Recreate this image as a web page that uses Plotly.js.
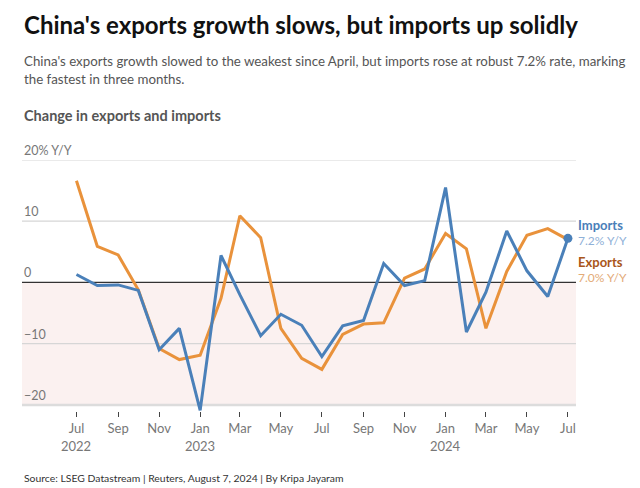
<!DOCTYPE html>
<html><head><meta charset="utf-8">
<script src="https://cdn.plot.ly/plotly-3.0.1.min.js"></script>
<style>html,body{margin:0;padding:0;background:#fff}#chart{width:640px;height:488px}</style>
</head><body><div id="chart"></div>
<script>
const months = ["2022-07-01","2022-08-01","2022-09-01","2022-10-01","2022-11-01","2022-12-01",
"2023-01-01","2023-02-01","2023-03-01","2023-04-01","2023-05-01","2023-06-01",
"2023-07-01","2023-08-01","2023-09-01","2023-10-01","2023-11-01","2023-12-01",
"2024-01-01","2024-02-01","2024-03-01","2024-04-01","2024-05-01","2024-06-01","2024-07-01"];
const exportsYY = [16.6,5.9,4.5,-1.2,-10.8,-12.6,-11.9,-2.6,10.9,7.3,-7.5,-12.4,-14.2,-8.5,-6.8,-6.6,0.7,2.2,8.0,5.5,-7.5,1.8,7.7,8.8,7.0];
const importsYY = [1.3,-0.5,-0.4,-1.3,-11.0,-7.5,-20.9,4.4,-2.0,-8.7,-5.2,-7.0,-12.1,-7.1,-6.2,3.1,-0.5,0.3,15.5,-8.1,-1.6,8.4,1.9,-2.3,7.2];
const tickDates = ["2022-07-01","2022-09-01","2022-11-01","2023-01-01","2023-03-01","2023-05-01","2023-07-01","2023-09-01","2023-11-01","2024-01-01","2024-03-01","2024-05-01","2024-07-01"];
const tickLabels = ["Jul","Sep","Nov","Jan","Mar","May","Jul","Sep","Nov","Jan","Mar","May","Jul"];
const yearDates = ["2022-07-01","2023-01-01","2024-01-01"];
const yearLabels = ["2022","2023","2024"];
const gridVals = [20,10,0,-10,-20];
const gridLabels = ["20% Y/Y","10","0","\u221210","\u221220"];

const FONT = "Lato, 'Source Sans Pro', 'Noto Sans', sans-serif";
const BLUE = "#4a80b9", ORANGE = "#e9923b";
const T = 160, B = 411, H = B - T;
const py = p => (B - p) / H;

const traces = [
  {x: months, y: exportsYY, type: "scatter", mode: "lines", line: {color: ORANGE, width: 3}, hoverinfo: "skip"},
  {x: months, y: importsYY, type: "scatter", mode: "lines", line: {color: BLUE, width: 3}, hoverinfo: "skip"},
  {x: [months[months.length-1]], y: [importsYY[importsYY.length-1]], type: "scatter", mode: "markers",
   marker: {color: BLUE, size: 9}, cliponaxis: false, hoverinfo: "skip"}
];

const shapes = [
  {type: "rect", xref: "paper", x0: 0, x1: 1, yref: "y", y0: -20, y1: 0, fillcolor: "#fbf1f0", line: {width: 0}, layer: "below"}
];
gridVals.forEach(v => {
  let color = "#d6d6d6", width = 1.2;
  if (v === 0) { color = "#333"; width = 1.2; }
  if (v === -20) { color = "#dcdcdc"; width = 2.5; }
  shapes.push({type: "line", xref: "paper", x0: 0, x1: 1, yref: "y", y0: v, y1: v, line: {color, width}, layer: "below"});
});

const ann = [];
gridVals.forEach((v, i) => ann.push({xref: "paper", x: 0, xanchor: "left", yref: "y", y: v, yanchor: "bottom", yshift: 0,
  text: gridLabels[i], showarrow: false, font: {family: FONT, size: 12.5, color: "#777"}}));
yearDates.forEach((d, i) => ann.push({xref: "x", x: d, xanchor: "center", yref: "paper", y: py(446), yanchor: "middle",
  text: yearLabels[i], showarrow: false, font: {family: FONT, size: 13, color: "#777"}}));
const txt = (text, p, size, color, bold, xs) => ann.push({xref: "paper", x: xs === undefined ? 0 : 1, xanchor: "left", xshift: xs || 0,
  yref: "paper", y: py(p), yanchor: "middle", text: bold ? "<b>" + text + "</b>" : text, showarrow: false,
  font: {family: FONT, size, color}});
txt("China's exports growth slows, but imports up solidly", 24, 24, "#111", true);
txt("China's exports growth slowed to the weakest since April, but imports rose at robust 7.2% rate, marking", 61, 13.3, "#555", false);
txt("the fastest in three months.", 79, 13.3, "#555", false);
txt("Change in exports and imports", 116, 14.5, "#555", true);
txt("Source: LSEG Datastream | Reuters, August 7, 2024 | By Kripa Jayaram", 478, 10.4, "#333", false);
txt("Imports", 225, 13, BLUE, true, 0);
txt("7.2% Y/Y", 240, 12, "#8fb1d8", false, 0);
txt("Exports", 262, 13, "#a9561a", true, 0);
txt("7.0% Y/Y", 277, 12, "#e3ab77", false, 0);

const layout = {
  width: 640, height: 488, margin: {l: 22, r: 64, t: T, b: 488 - B},
  paper_bgcolor: "#fff", plot_bgcolor: "rgba(0,0,0,0)", showlegend: false,
  font: {family: FONT},
  xaxis: {type: "date", range: ["2022-04-11", "2024-07-13"], showgrid: false, zeroline: false, showline: false,
    tickmode: "array", tickvals: tickDates, ticktext: tickLabels, ticks: "outside", ticklen: 5, tickwidth: 1, tickcolor: "#444",
    tickfont: {family: FONT, size: 13, color: "#777"}},
  yaxis: {range: [-21, 20], showgrid: false, zeroline: false, showticklabels: false, showline: false, ticks: ""},
  shapes, annotations: ann
};
Plotly.newPlot("chart", traces, layout, {displayModeBar: false, staticPlot: true});
</script></body></html>
